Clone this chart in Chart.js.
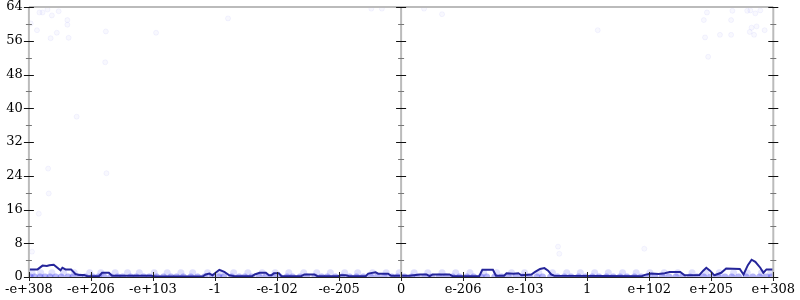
<!DOCTYPE html>
<html>
<head>
<meta charset="utf-8">
<script src="https://cdn.jsdelivr.net/npm/chart.js@4"></script>
<style>
  html, body { margin: 0; padding: 0; background: #fff; }
  #wrap { width: 800px; height: 300px; }
</style>
</head>
<body>
<div id="wrap"><canvas id="chart" width="800" height="300"></canvas></div>
<script>
// tick labels along x (one per unit, -6 .. 6)
var xLabels = ['-e+308', '-e+206', '-e+103', '-1', '-e-102', '-e-205', '0',
               'e-206', 'e-103', '1', 'e+102', 'e+205', 'e+308'];

// running line (x in label units, y count)
var lineX = [-6.00, -5.86, -5.78, -5.71, -5.67, -5.60, -5.55, -5.49, -5.46, -5.41, -5.32, -5.25, -5.19, -5.11, -5.06,
             -4.87, -4.82, -4.71, -4.66, -4.03, -3.96, -3.20, -3.15, -3.09, -3.04, -2.99, -2.93, -2.85, -2.77, -2.69,
             -2.40, -2.36, -2.28, -2.18, -2.13, -2.09, -2.05, -1.97, -1.93, -1.61, -1.56, -1.40, -1.35, -1.02, -0.97,
             -0.89, -0.84, -0.57, -0.53, -0.41, -0.37, -0.21, -0.16, 0.00,
             0.14, 0.30, 0.41, 0.46, 0.51, 0.78, 0.83, 1.26, 1.31, 1.48, 1.53, 1.66, 1.70, 1.81, 1.89, 1.94,
             2.10, 2.16, 2.24, 2.31, 2.37, 2.42, 2.47, 3.88, 3.93, 4.03, 4.15, 4.25, 4.33, 4.50, 4.57, 4.81,
             4.87, 4.92, 4.98, 5.05, 5.16, 5.24, 5.46, 5.52, 5.59, 5.65, 5.71, 5.79, 5.84, 5.89, 6.00];
var lineY = [1.8, 1.8, 2.7, 2.6, 2.8, 2.9, 2.3, 1.6, 2.2, 1.8, 1.8, 0.7, 0.5, 0.5, 0.2,
             0.2, 1.0, 1.0, 0.3, 0.3, 0.1, 0.1, 0.6, 0.8, 0.4, 1.0, 1.7, 1.2, 0.4, 0.2,
             0.2, 0.6, 1.0, 1.0, 0.4, 0.4, 0.9, 0.9, 0.2, 0.2, 0.6, 0.6, 0.2, 0.2, 0.4,
             0.4, 0.2, 0.2, 0.8, 1.1, 0.8, 0.8, 0.3, 0.3,
             0.3, 0.6, 0.6, 0.2, 0.6, 0.6, 0.2, 0.2, 1.7, 1.7, 0.3, 0.3, 0.9, 0.8, 0.9, 0.4,
             0.6, 1.2, 1.9, 2.1, 1.5, 0.6, 0.3, 0.2, 0.5, 0.8, 0.7, 0.9, 1.2, 1.2, 0.4, 0.5,
             1.5, 2.2, 1.5, 0.4, 1.0, 2.0, 1.9, 0.6, 2.8, 4.1, 3.6, 2.2, 1.0, 1.8, 1.8];

// sparse outliers
var outX = [-5.83, -5.78, -5.70, -5.63, -5.52, -5.38, -5.38, -5.87, -5.55, -5.65, -5.36, -4.76, -3.95, -4.77, -5.97,
            -5.23, -5.69, -4.75, -5.68, -5.84, 4.93, 5.34, 5.58, 5.71, 5.79, 5.63, 4.88, 5.32, 5.65, 5.73,
            5.62, 5.69, 5.86, 4.90, 5.14, 5.32, 4.95, -0.48, -0.31, 0.37, 0.66, 2.53, 2.55, 3.92, -2.79,
            3.17, -5.95];
var outY = [62.7, 62.7, 63.4, 62.0, 63.0, 60.9, 59.8, 58.5, 57.9, 56.6, 56.7, 58.2, 57.9, 50.9, 60.1,
            38.0, 25.7, 24.6, 19.8, 15.0, 62.7, 63.1, 63.1, 62.5, 63.2, 63.2, 60.9, 60.9, 59.1, 59.4,
            58.1, 57.4, 58.5, 56.8, 57.4, 57.4, 52.2, 63.6, 63.6, 63.6, 62.3, 7.2, 5.5, 6.7, 61.3,
            58.5, 6.0];

// dense points sitting on 0 and on 1
var zeroX = [-5.98, -5.91, -5.82, -5.74, -5.66, -5.57, -5.48, -5.37, -5.29, -5.18, -5.09, -4.97, -4.88, -4.79, -4.68,
             -4.57, -4.49, -4.36, -4.27, -4.15, -4.06, -3.94, -3.83, -3.71, -3.62, -3.51, -3.39, -3.28, -3.17, -3.05,
             -2.94, -2.86, -2.73, -2.61, -2.52, -2.41, -2.29, -2.18, -2.07, -1.96, -1.84, -1.75, -1.63, -1.52, -1.39,
             -1.28, -1.19, -1.06, -0.95, -0.83, -0.72, -0.61, -0.49, -0.38, -0.27, -0.15, -0.06, 0.05, 0.17, 0.26,
             0.38, 0.49, 0.61, 0.72, 0.83, 0.94, 1.06, 1.17, 1.29, 1.38, 1.51, 1.62, 1.73, 1.85, 1.96,
             2.07, 2.19, 2.28, 2.41, 2.52, 2.63, 2.74, 2.86, 2.97, 3.08, 3.19, 3.31, 3.42, 3.53, 3.64,
             3.76, 3.87, 3.98, 4.09, 4.21, 4.32, 4.43, 4.54, 4.66, 4.77, 4.88, 4.99, 5.11, 5.22, 5.33,
             5.44, 5.56, 5.67, 5.78, 5.89, 5.97];
var oneX = [-5.95, -5.81, -5.63, -5.44, -5.27, -5.02, -4.84, -4.61, -4.41, -4.22, -3.98, -3.77, -3.55, -3.36, -3.12,
            -2.91, -2.70, -2.47, -2.24, -2.03, -1.81, -1.57, -1.36, -1.14, -0.91, -0.70, -0.46, -0.24, -0.03, 0.21,
            0.43, 0.66, 0.88, 1.11, 1.33, 1.54, 1.78, 1.99, 2.22, 2.44, 2.67, 2.89, 3.12, 3.34, 3.57,
            3.79, 4.01, 4.24, 4.46, 4.69, 4.91, 5.13, 5.36, 5.58, 5.81, 5.96];

var yTicks = [0, 8, 16, 24, 32, 40, 48, 56, 64];

function pts(xs, ys) {
  var out = [];
  for (var i = 0; i < xs.length; i++) out.push({ x: xs[i], y: ys[i] });
  return out;
}
function flat(xs, v) {
  var out = [];
  for (var i = 0; i < xs.length; i++) out.push({ x: xs[i], y: v });
  return out;
}

// axis frame + crossing ticks
var framePlugin = {
  id: 'frame',
  afterDatasetsDraw: function (chart) {
    var ctx = chart.ctx, a = chart.chartArea;
    var xs = chart.scales.x, ys = chart.scales.y;
    var cx = xs.getPixelForValue(0);
    ctx.save();
    ctx.strokeStyle = '#bbbbbb';
    ctx.lineWidth = 2;
    ctx.beginPath();
    ctx.moveTo(a.left, a.top); ctx.lineTo(a.right, a.top);
    [a.left, cx, a.right].forEach(function (px) {
      ctx.moveTo(px, a.top); ctx.lineTo(px, a.bottom);
    });
    ctx.stroke();
    for (var v = 0; v <= 64; v += 4) {
      var py = Math.round(ys.getPixelForValue(v)) + 0.5;
      var major = v % 8 === 0;
      ctx.strokeStyle = major ? '#111' : '#777';
      ctx.lineWidth = 1;
      var h = major ? 5 : 3;
      ctx.beginPath();
      [a.left, cx, a.right].forEach(function (px) {
        ctx.moveTo(px - h, py); ctx.lineTo(px + h, py);
      });
      ctx.stroke();
    }
    ctx.strokeStyle = '#222';
    ctx.lineWidth = 1;
    ctx.beginPath();
    ctx.moveTo(a.left, a.bottom + 0.5); ctx.lineTo(a.right, a.bottom + 0.5);
    for (var i = -6; i <= 6; i++) {
      var px = Math.round(xs.getPixelForValue(i)) + 0.5;
      ctx.moveTo(px, a.bottom - 5); ctx.lineTo(px, a.bottom + 4);
    }
    ctx.stroke();
    ctx.restore();
  }
};

var chart = new Chart(document.getElementById('chart').getContext('2d'), {
  type: 'scatter',
  data: {
    datasets: [
      {
        data: flat(zeroX, 0),
        pointRadius: 3.5,
        pointBackgroundColor: 'rgba(40,40,235,0.35)',
        pointBorderWidth: 0,
        order: 3
      },
      {
        data: flat(oneX, 1),
        pointRadius: 3.5,
        pointBackgroundColor: 'rgba(60,60,235,0.16)',
        pointBorderWidth: 0,
        order: 3
      },
      {
        data: pts(outX, outY),
        pointRadius: 2.5,
        pointBackgroundColor: 'rgba(80,80,235,0.04)',
        pointBorderColor: 'rgba(80,80,235,0.06)',
        pointBorderWidth: 1,
        order: 2
      },
      {
        type: 'line',
        data: pts(lineX, lineY),
        borderColor: '#25259a',
        borderWidth: 2,
        pointRadius: 0,
        tension: 0,
        fill: false,
        order: 1
      }
    ]
  },
  options: {
    responsive: false,
    animation: false,
    layout: { padding: { top: 7, right: 22, left: 0, bottom: 0 } },
    plugins: { legend: { display: false }, tooltip: { enabled: false } },
    scales: {
      x: {
        type: 'linear',
        min: -6, max: 6,
        grid: { display: false, drawTicks: false },
        border: { display: false },
        afterFit: function (s) { s.height = 23; },
        afterBuildTicks: function (s) {
          s.ticks = xLabels.map(function (l, i) { return { value: i - 6 }; });
        },
        ticks: {
          autoSkip: false,
          maxRotation: 0,
          padding: 5,
          color: '#000',
          font: { family: 'DejaVu Serif', size: 13 },
          callback: function (v) { return xLabels[v + 6]; }
        }
      },
      y: {
        min: 0, max: 64,
        grid: { display: false, drawTicks: false },
        border: { display: false },
        afterFit: function (s) { s.width = 24; s.paddingTop = 0; s.paddingBottom = 0; },
        afterBuildTicks: function (s) {
          s.ticks = yTicks.map(function (v) { return { value: v }; });
        },
        ticks: {
          padding: 6,
          color: '#000',
          font: { family: 'DejaVu Serif', size: 13 }
        }
      }
    }
  },
  plugins: [framePlugin]
});
</script>
</body>
</html>
